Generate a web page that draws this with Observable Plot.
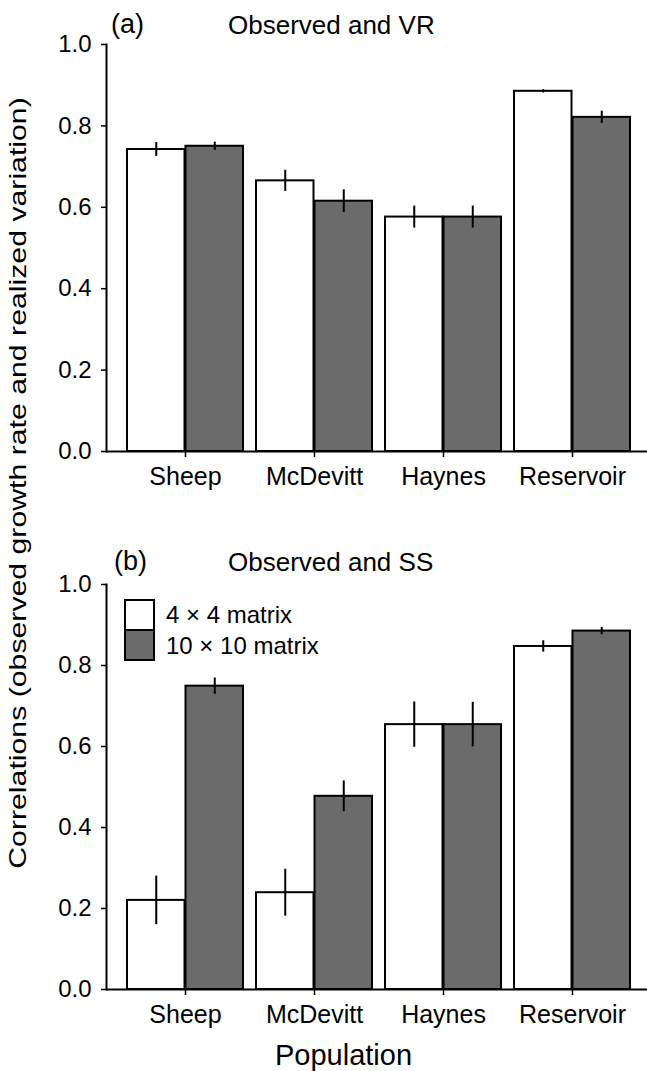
<!DOCTYPE html>
<html>
<head>
<meta charset="utf-8">
<script src="https://cdn.jsdelivr.net/npm/d3@7"></script>
<script src="https://cdn.jsdelivr.net/npm/@observablehq/plot@0.6"></script>
<style>
  html, body { margin: 0; padding: 0; background: white; }
  #fig { position: relative; width: 647px; height: 1071px; font-family: "Liberation Sans", Arial, sans-serif; color: black; }
  #fig svg { position: absolute; left: 0; background: transparent; overflow: visible; }
  .t { position: absolute; white-space: nowrap; line-height: 1; }
  .sw { position: absolute; box-sizing: border-box; border: 2px solid black; }
</style>
</head>
<body>
<div id="fig"></div>
<script>
// ---- data ----
const populations = ["Sheep", "McDevitt", "Haynes", "Reservoir"];
const seriesNames = ["4 × 4 matrix", "10 × 10 matrix"];
const seriesFill = ["white", "#6b6b6b"];
const yTicks = [0, 0.2, 0.4, 0.6, 0.8, 1.0];

// (a) Observed and VR
const vr4 = [0.742, 0.665, 0.576, 0.885];
const vr4Err = [0.017, 0.026, 0.027, 0.004];
const vr10 = [0.750, 0.615, 0.576, 0.821];
const vr10Err = [0.010, 0.028, 0.027, 0.015];

// (b) Observed and SS
const ss4 = [0.220, 0.239, 0.654, 0.847];
const ss4Err = [0.060, 0.058, 0.056, 0.014];
const ss10 = [0.749, 0.477, 0.654, 0.885];
const ss10Err = [0.020, 0.038, 0.055, 0.009];

const font = '"Liberation Sans", Arial, sans-serif';
const fig = document.getElementById("fig");

function rows(vals, errs) {
  return populations.map((p, i) => ({population: p, value: vals[i], err: errs[i]}));
}

function panel(v4, e4, v10, e10, top, height, marginTop, marginBottom) {
  const half = 58.5;
  const d4 = rows(v4, e4), d10 = rows(v10, e10);
  const chart = Plot.plot({
    width: 647,
    height,
    marginLeft: 106,
    marginRight: 0,
    marginTop,
    marginBottom,
    style: {fontFamily: font, background: "transparent", color: "black"},
    x: {domain: populations, range: [118.6, 638.2], paddingInner: 0.0985, paddingOuter: 0.049, label: null},
    y: {domain: [0, 1], label: null},
    marks: [
      Plot.barY(d4, {x: "population", y: "value", fill: seriesFill[0], stroke: "black", strokeWidth: 2, insetRight: half}),
      Plot.barY(d10, {x: "population", y: "value", fill: seriesFill[1], stroke: "black", strokeWidth: 2, insetLeft: half}),
      Plot.ruleX(d4, {x: "population", y1: d => d.value - d.err, y2: d => d.value + d.err, dx: -half / 2, stroke: "black", strokeWidth: 2}),
      Plot.ruleX(d10, {x: "population", y1: d => d.value - d.err, y2: d => d.value + d.err, dx: half / 2, stroke: "black", strokeWidth: 2}),
      Plot.ruleY([0], {stroke: "black", strokeWidth: 2}),
      Plot.frame({anchor: "left", stroke: "black", strokeWidth: 2}),
      Plot.axisY({ticks: yTicks, tickFormat: d3.format(".1f"), tickSize: 5, tickPadding: 10, fontSize: 24, strokeWidth: 1.5, label: null}),
      Plot.axisX({tickSize: 6, tickPadding: 10, fontSize: 25, strokeWidth: 1.5, label: null})
    ]
  });
  chart.style.top = top + "px";
  fig.appendChild(chart);
}

panel(vr4, vr4Err, vr10, vr10Err, 0, 510, 44, 59);
panel(ss4, ss4Err, ss10, ss10Err, 510, 561, 74, 82);

function addText(txt, left, top, size, extra) {
  const d = document.createElement("div");
  d.className = "t";
  d.textContent = txt;
  d.style.left = left + "px";
  d.style.top = top + "px";
  d.style.fontSize = size + "px";
  if (extra) Object.assign(d.style, extra);
  fig.appendChild(d);
  return d;
}

// panel titles
addText("(a)", 111, 11, 27);
addText("Observed and VR", 228, 12, 26);
addText("(b)", 114, 548, 27);
addText("Observed and SS", 228, 549, 26);

// legend (panel b)
[[599, 631], [629, 661]].forEach(([y0, y1], i) => {
  const s = document.createElement("div");
  s.className = "sw";
  s.style.left = "124px";
  s.style.top = y0 + "px";
  s.style.width = "31px";
  s.style.height = (y1 - y0) + "px";
  s.style.background = seriesFill[i];
  fig.appendChild(s);
});
addText(seriesNames[0], 166, 603, 24);
addText(seriesNames[1], 166, 634, 24);

// axis titles
addText("Population", 275, 1041, 29);
const yl = addText("Correlations (observed growth rate and realized variation)", 0, 0, 27);
yl.style.left = "19px";
yl.style.top = "483px";
yl.style.transform = "translate(-50%, -50%) rotate(-90deg) scale(1.12, 0.88)";
</script>
</body>
</html>
